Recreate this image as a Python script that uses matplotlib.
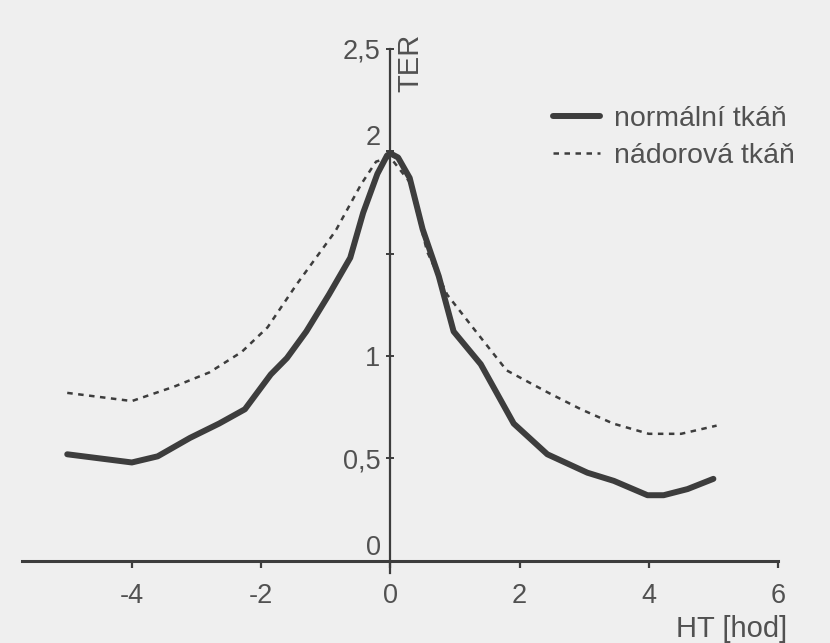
import matplotlib.pyplot as plt

plt.rcParams["font.family"] = ["Liberation Sans", "DejaVu Sans"]

# TER over HT [hod]
normal_x = [-5.0, -4.5, -4.0, -3.6, -3.1, -2.65, -2.25, -1.85, -1.6, -1.3, -0.95,
            -0.62, -0.42, -0.2, -0.05, 0.0, 0.12, 0.3, 0.5, 0.75, 0.98, 1.4,
            1.91, 2.43, 3.05, 3.46, 3.98, 4.23, 4.6, 5.0]
normal_y = [0.52, 0.50, 0.48, 0.51, 0.60, 0.67, 0.74, 0.91, 0.99, 1.12, 1.30,
            1.48, 1.70, 1.89, 1.98, 1.99, 1.97, 1.87, 1.62, 1.39, 1.12, 0.96,
            0.67, 0.52, 0.43, 0.39, 0.32, 0.32, 0.35, 0.40]

tumor_x = [-5.0, -4.5, -4.0, -3.35, -2.8, -2.3, -1.9, -1.45, -0.85, -0.45, -0.22,
           0.0, 0.3, 0.57, 0.88, 1.3, 1.8, 2.45, 2.95, 3.45, 4.0, 4.5, 5.05]
tumor_y = [0.82, 0.80, 0.78, 0.85, 0.92, 1.02, 1.14, 1.35, 1.61, 1.84, 1.95,
           1.97, 1.85, 1.51, 1.30, 1.13, 0.93, 0.82, 0.74, 0.67, 0.62, 0.62, 0.66]

y_ticks = [0, 0.5, 1, 1.5, 2, 2.5]
y_labels = ["0", "0,5", "1", "", "2", "2,5"]
x_ticks = [-4, -2, 0, 2, 4, 6]
x_labels = ["-4", "-2", "0", "2", "4", "6"]

ink = "#3d3d3d"
txt = "#515151"
bg = "#efefef"

fig = plt.figure(figsize=(8.3, 6.43), dpi=100, facecolor=bg)
ax = fig.add_axes([22 / 830, 1 - 573 / 643, 756 / 830, (573 - 49) / 643])
ax.set_facecolor(bg)

ax.plot(tumor_x, tumor_y, color=ink, lw=1.8, ls=(0, (2.2, 2.2)), label="nádorová tkáň")
ax.plot(normal_x, normal_y, color=ink, lw=4.3, solid_capstyle="round",
        solid_joinstyle="round", label="normální tkáň")

ax.set_xlim(-5.7, 6.0)
ax.set_ylim(-0.06, 2.5)

for side in ["top", "right"]:
    ax.spines[side].set_visible(False)
ax.spines["left"].set_position(("data", 0))
ax.spines["bottom"].set_position(("data", 0))
ax.spines["left"].set_color(ink)
ax.spines["left"].set_linewidth(1.6)
ax.spines["bottom"].set_color(ink)
ax.spines["bottom"].set_linewidth(2.2)

ax.set_xticks(x_ticks)
ax.set_xticklabels(x_labels)
ax.set_yticks(y_ticks)
ax.set_yticklabels(y_labels)
ax.tick_params(axis="x", direction="out", length=5, width=1.6, color=ink,
               labelsize=19.5, labelcolor=txt, pad=11)
ax.tick_params(axis="y", direction="inout", length=6, width=1.4, color=ink,
               labelsize=19.5, labelcolor=txt, pad=4)
for lab in ax.get_yticklabels():
    if lab.get_text() in ("0", "2"):
        lab.set_verticalalignment("bottom")

ax.text(0.31, 2.43, "TER", rotation=90, ha="center", va="center",
        fontsize=21, color=txt)
fig.text(787 / 830, 1 - 629 / 643, "HT [hod]", ha="right", va="center",
         fontsize=21, color=txt)

handles, labels = ax.get_legend_handles_labels()
leg = ax.legend(handles[::-1], labels[::-1], loc="upper left",
                bbox_to_anchor=(553 / 830, 1 - 106 / 643), bbox_transform=fig.transFigure,
                frameon=False, fontsize=20.5, labelcolor=txt, handlelength=1.65,
                handletextpad=0.5, labelspacing=0.38, borderpad=0, borderaxespad=0)

fig.savefig("out.png", dpi=100, facecolor=bg)
